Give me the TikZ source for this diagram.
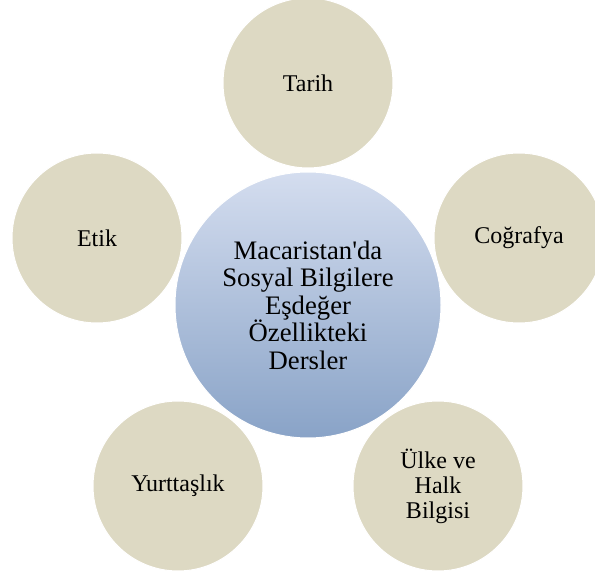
\documentclass[tikz,border=0pt]{standalone}
\usepackage{fontspec}
\setmainfont{Liberation Serif}[Ligatures=TeXOff]

\definecolor{tanfill}{RGB}{221,217,195}
\definecolor{bluetop}{RGB}{212,221,239}
\definecolor{bluebottom}{RGB}{137,163,199}

\tikzset{
  ders/.style={circle, fill=tanfill, draw=white, line width=1pt,
    minimum size=170pt, inner sep=0pt, align=center,
    font=\fontsize{24}{25}\selectfont},
  merkez/.style={circle, top color=bluetop, bottom color=bluebottom,
    draw=white, line width=1pt, minimum size=266pt, inner sep=0pt,
    align=center, font=\fontsize{26.7}{27.5}\selectfont}
}

\begin{document}
\begin{tikzpicture}[x=1pt, y=-1pt]
  \useasboundingbox (0,0) rectangle (595,577);

  % Merkez daire
  \node[merkez] (merkez) at (308,305)
    {Macaristan'da\\Sosyal Bilgilere\\Eşdeğer\\Özellikteki\\Dersler};

  % Dersler (beşgen üzerinde, r = 222)
  \node[ders] (tarih) at (308,83) {Tarih};
  \node[ders] (cografya) at (519,238) {Coğrafya};
  \node[ders] (ulke) at (438,486) {Ülke ve\\Halk\\Bilgisi};
  \node[ders] (yurttaslik) at (178,486) {Yurttaşlık};
  \node[ders] (etik) at (97,238) {Etik};
\end{tikzpicture}
\end{document}
